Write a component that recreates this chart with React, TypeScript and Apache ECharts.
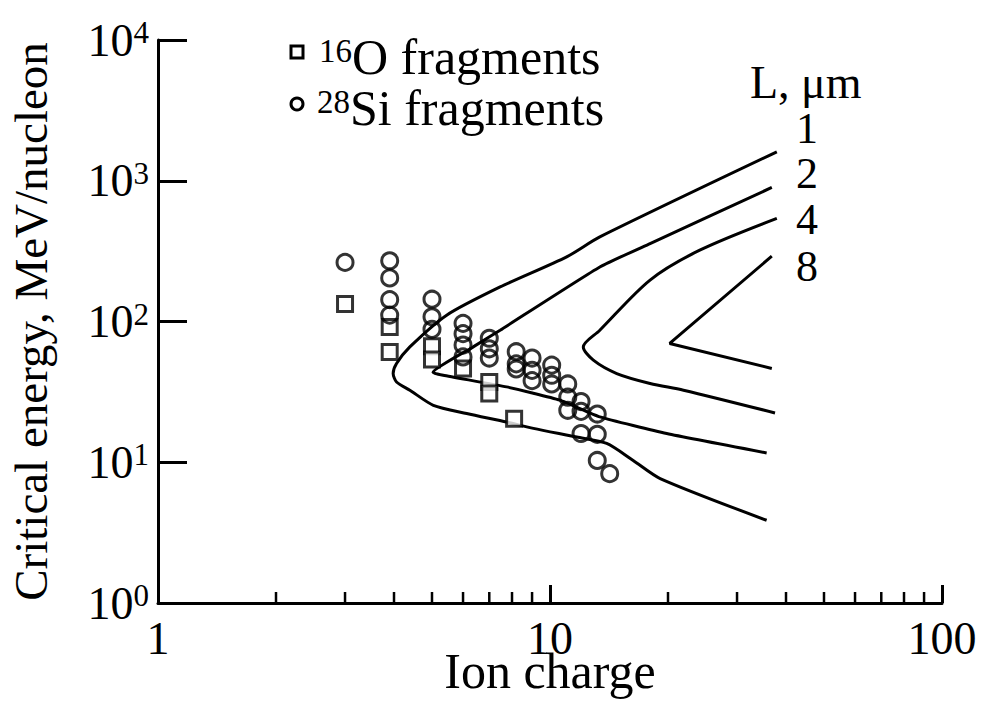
import React, { useEffect, useRef } from "react";
import * as echarts from "echarts";

// 16O fragments (ion charge, critical energy MeV/nucleon)
const o16X = [3, 3.9, 3.9, 5, 5, 6, 7, 7, 8.1];
const o16Y = [133, 91.5, 60.8, 66.8, 53.7, 46.3, 37.2, 30.8, 20.4];

// 28Si fragments
const si28X = [3, 3.9, 3.9, 3.9, 3.9, 5, 5, 5, 6, 6, 6, 6, 7, 7, 7, 8.2, 8.2, 8.2, 9, 9, 9, 10.1, 10.1, 10.1, 11.1, 11.1, 11.1, 12, 12, 12, 13.2, 13.2, 13.2, 14.2];
const si28Y = [263, 270, 204, 143, 111, 144, 108, 88, 97, 82, 68, 56, 76, 64, 55, 61, 50, 46, 55, 45, 38, 49, 41.5, 36, 36, 29, 23.4, 27, 23, 16, 22, 15.8, 10.3, 8.3];

// Curves for L = 1, 2, 4, 8 um (lower branch end -> nose -> upper branch end)
const curve1X = [35.7, 19.1, 16.3, 13.95, 11.7, 9.07, 7.75, 6.13, 5.04, 4.39, 4.06, 3.98, 4.06, 4.39, 5.45, 7.46, 11.03, 13.4, 37.9];
const curve1Y = [3.87, 7.66, 10.3, 13.6, 15.1, 17.4, 19.3, 22.2, 25.4, 32.5, 37.2, 42.7, 50.3, 66, 110.9, 176, 288, 399, 1604];
const curve2X = [35.7, 19.85, 13.4, 10.6, 7.75, 5.34, 5.03, 6.37, 7.46, 13.4, 18.0, 36.8];
const curve2Y = [11.65, 16.0, 21.0, 27.6, 34.3, 41.5, 43.5, 66, 86.7, 244, 358, 896];
const curve4X = [37.5, 21.9, 18.0, 14.8, 12.9, 12.16, 13.4, 18.0, 24.1, 37.9];
const curve4Y = [22.4, 32.5, 36.3, 42.7, 53.1, 66, 86.7, 197, 321, 540];
const curve8X = [36.8, 20.2, 36.8];
const curve8Y = [46.4, 69.8, 291];

const curveLabels = ["1", "2", "4", "8"];
const xMinorTicks = [2, 3, 4, 5, 6, 7, 8, 9, 20, 30, 40, 50, 60, 70, 80, 90];

const FONT = '"Liberation Serif", "Times New Roman", serif';

const zip = (xs: number[], ys: number[]) => xs.map((x, i) => [x, ys[i]]);

export default function App() {
  const ref = useRef<HTMLDivElement>(null);

  useEffect(() => {
    if (!ref.current) return;
    const chart = echarts.init(ref.current, undefined, { renderer: "svg" });

    const lineSeries = (name: string, xs: number[], ys: number[], smooth: number | boolean) => ({
      name,
      type: "line",
      data: zip(xs, ys),
      symbol: "none",
      smooth,
      lineStyle: { color: "#000", width: 3 },
      z: 2,
    });

    const supRich = (size: number, sup: number, lh: number) => ({
      b: { fontFamily: FONT, fontSize: size, color: "#000", fill: "#000", lineHeight: lh },
      s: { fontFamily: FONT, fontSize: sup, color: "#000", fill: "#000", verticalAlign: "top", lineHeight: sup },
    });

    const option: any = {
      animation: false,
      backgroundColor: "#fff",
      grid: { left: 158, right: 43, top: 40, bottom: 108, containLabel: false, outerBoundsMode: "none" },
      xAxis: {
        type: "log",
        logBase: 10,
        min: 1,
        max: 100,
        name: "Ion charge",
        nameLocation: "middle",
        nameGap: 50,
        nameMoveOverlap: false,
        nameTextStyle: { fontFamily: FONT, fontSize: 50, color: "#000", lineHeight: 36 },
        axisLine: { lineStyle: { color: "#000", width: 3 } },
        axisTick: { inside: true, length: 18, lineStyle: { color: "#000", width: 3 } },
        axisLabel: {
          fontFamily: FONT,
          fontSize: 46,
          lineHeight: 30,
          color: "#000",
          margin: 20,
          formatter: (v: number) => String(Math.round(v)),
        },
        splitLine: { show: false },
        minorTick: { show: false },
      },
      yAxis: {
        type: "log",
        logBase: 10,
        min: 1,
        max: 10000,
        name: "Critical energy, MeV/nucleon",
        nameLocation: "middle",
        nameGap: 104,
        nameMoveOverlap: false,
        nameRotate: 90,
        nameTextStyle: { fontFamily: FONT, fontSize: 47, color: "#000" },
        axisLine: { lineStyle: { color: "#000", width: 3 } },
        axisTick: { inside: true, length: 29, lineStyle: { color: "#000", width: 3 } },
        axisLabel: {
          fontFamily: FONT,
          color: "#000",
          margin: 9,
          formatter: (v: number) => "{b|10}{s|" + Math.round(Math.log10(v)) + "}",
          rich: supRich(46, 31, 46),
        },
        splitLine: { show: false },
      },
      series: [
        {
          name: "minorTicks",
          type: "custom",
          silent: true,
          data: xMinorTicks.map((v) => [v, 1]),
          renderItem: (params: any, api: any) => {
            const p = api.coord([api.value(0), api.value(1)]);
            return {
              type: "line",
              shape: { x1: p[0], y1: p[1], x2: p[0], y2: p[1] - 11 },
              style: { stroke: "#000", lineWidth: 2.5 },
            };
          },
          clip: false,
          z: 3,
        },
        lineSeries("L=1", curve1X, curve1Y, 0.25),
        lineSeries("L=2", curve2X, curve2Y, 0.15),
        lineSeries("L=4", curve4X, curve4Y, 0.3),
        lineSeries("L=8", curve8X, curve8Y, false),
        {
          name: "16O fragments",
          type: "scatter",
          data: zip(o16X, o16Y),
          symbol: "rect",
          symbolSize: 15,
          itemStyle: { color: "#fff", borderColor: "#000", borderWidth: 3 },
          z: 4,
        },
        {
          name: "28Si fragments",
          type: "scatter",
          data: zip(si28X, si28Y),
          symbol: "circle",
          symbolSize: 16,
          itemStyle: { color: "rgba(255,255,255,0)", borderColor: "#000", borderWidth: 3 },
          z: 5,
        },
      ],
      graphic: [
        {
          type: "rect",
          shape: { x: 291, y: 46, width: 12, height: 12 },
          style: { fill: "#fff", stroke: "#000", lineWidth: 3 },
        },
        {
          type: "circle",
          shape: { cx: 297, cy: 104, r: 6 },
          style: { fill: "#fff", stroke: "#000", lineWidth: 3 },
        },
        {
          type: "text",
          x: 319,
          y: 57,
          style: {
            text: "{s|16}{b|O fragments}",
            textVerticalAlign: "middle",
            rich: supRich(50, 33, 46),
          },
        },
        {
          type: "text",
          x: 317,
          y: 108,
          style: {
            text: "{s|28}{b|Si fragments}",
            textVerticalAlign: "middle",
            rich: supRich(50, 33, 46),
          },
        },
        {
          type: "text",
          x: 750,
          y: 82,
          style: { text: "L, \u03bcm", font: `46px ${FONT}`, fill: "#000", textVerticalAlign: "middle" },
        },
        ...curveLabels.map((t, i) => ({
          type: "text",
          x: 796,
          y: [128, 173, 219, 266][i],
          style: { text: t, font: `44px ${FONT}`, fill: "#000", textVerticalAlign: "middle" },
        })),
      ],
    };

    chart.setOption(option);
    return () => chart.dispose();
  }, []);

  return (
    <div
      ref={ref}
      style={{ position: "fixed", left: 0, top: 0, width: 985, height: 711, background: "#fff" }}
    />
  );
}
